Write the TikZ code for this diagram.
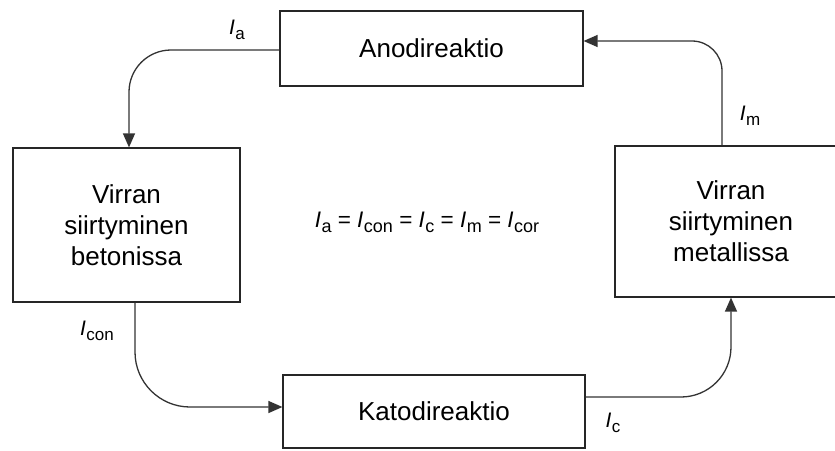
\documentclass[tikz,border=0pt]{standalone}
\usepackage{fontspec}
\setmainfont{Liberation Sans}
\usetikzlibrary{arrows.meta}
\newcommand\curr[1]{\textit{I}\kern0.5pt\raisebox{-0.22em}{\fontsize{17}{17}\selectfont #1}}
\newcommand\currbig[1]{\textit{I}\kern0.5pt\raisebox{-0.22em}{\fontsize{18}{18}\selectfont #1}}
\tikzset{
  box/.style={draw=black!85, line width=1.2pt, fill=white, inner sep=0pt, align=center,
    font=\fontsize{26}{31}\selectfont},
  arr/.style={draw=black!80, line width=1.3pt, -{Triangle[length=14pt,width=12pt]}},
  lbl/.style={inner sep=0pt, font=\fontsize{21}{21}\selectfont},
}
\begin{document}
\begin{tikzpicture}[x=1pt,y=-1pt]
\useasboundingbox[fill=white] (0,0) rectangle (835,450);
\node[box, minimum width=303pt, minimum height=75pt] (A) at (431.5,48.5) {Anodireaktio};
\node[box, minimum width=227pt, minimum height=154pt] (B) at (126.5,225) {Virran\\siirtyminen\\betonissa};
\node[box, minimum width=302pt, minimum height=73pt] (K) at (434,411.5) {Katodireaktio};
\node[box, minimum width=232pt, minimum height=151pt] (M) at (731,221.5) {Virran\\siirtyminen\\metallissa};

\draw[arr, rounded corners=42pt] ([yshift=-1.5pt]A.west) -| ([xshift=2.5pt]B.north);
\draw[arr, rounded corners=55pt] ([xshift=8.5pt]B.south) |- ([yshift=4.5pt]K.west);
\draw[arr, rounded corners=50pt] ([yshift=14.5pt]K.east) -| (M.south);
\draw[arr, rounded corners=30pt] ([xshift=-9pt]M.north) |- ([yshift=7.5pt]A.east);

\node[lbl] (la) at (237,30) {\curr{a}};
\node[lbl] (lcon) at (97,331) {\curr{con}};
\node[lbl] (lm) at (750,116) {\curr{m}};
\node[lbl] (lc) at (613,423) {\curr{c}};
\node[lbl, font=\fontsize{22.5}{22.5}\selectfont] (eq) at (427,222)
  {\currbig{a} = \currbig{con} = \currbig{c} = \currbig{m} = \currbig{cor}};
\end{tikzpicture}
\end{document}
